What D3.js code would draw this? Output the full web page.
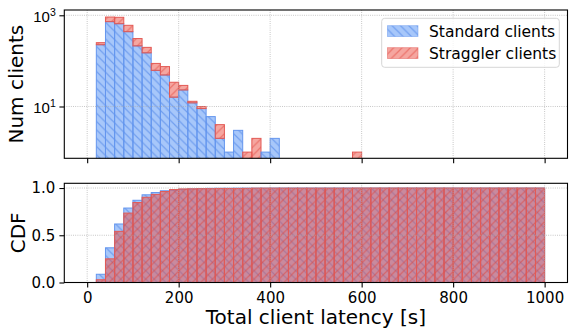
<!DOCTYPE html>
<html>
<head>
<meta charset="utf-8">
<script src="https://cdn.jsdelivr.net/npm/d3@7"></script>
<style>
  body { margin: 0; background: #fff; }
  svg { display: block; font-family: "DejaVu Sans", sans-serif; }
</style>
</head>
<body>
<svg id="chart" width="573" height="334"></svg>
<script>
// histogram bins: lower edges, 20 s wide, 20..980
const binWidth = 20;
const binStarts = d3.range(20, 1000, binWidth);

// counts per bin
const standardCounts = [
  226, 725, 653, 437, 213, 150, 62, 49, 16, 23,
  12, 9, 6, 2, 1, 3, 0, 0, 1, 2,
  0, 0, 0, 0, 0, 0, 0, 0, 0, 0,
  0, 0, 0, 0, 0, 0, 0, 0, 0, 0,
  0, 0, 0, 0, 0, 0, 0, 0, 0
];
const stragglerCounts = [
  25, 190, 250, 166, 96, 48, 26, 26, 18, 6,
  1, 1, 0, 2, 0, 0, 1, 2, 0, 0,
  0, 0, 0, 0, 0, 0, 0, 0, 1, 0,
  0, 0, 0, 0, 0, 0, 0, 0, 0, 0,
  0, 0, 0, 0, 0, 0, 0, 0, 0
];

const xTicks = [0, 200, 400, 600, 800, 1000];
const logTicks = [10, 1000];
const cdfTicks = [0, 0.5, 1.0];
const seriesNames = ["Standard clients", "Straggler clients"];

const svg = d3.select("#chart");
const left = 64.3, right = 567.5;
const top1 = 10, bottom1 = 158.3;
const top2 = 183.3, bottom2 = 282.5;

const blueFill = "rgba(80,144,245,0.5)", blueEdge = "#6496ee", blueHatch = "rgba(70,125,230,0.55)";
const redFill = "rgba(235,77,65,0.5)", redEdge = "#e35a55", redHatch = "rgba(225,65,55,0.5)";

const x = d3.scaleLinear().domain([-50, 1050]).range([left, right]);
const yLog = d3.scaleLog().domain([Math.pow(10, -0.136), Math.pow(10, 3.116)]).range([bottom1, top1]);
const yCdf = d3.scaleLinear().domain([0, 1.05]).range([bottom2, top2]);

// hatch patterns
const defs = svg.append("defs");
function hatch(id, color, back) {
  const s = 8.33;
  const p = defs.append("pattern").attr("id", id)
    .attr("patternUnits", "userSpaceOnUse").attr("width", s).attr("height", s);
  const d = back
    ? `M0,0 L${s},${s} M${-s},0 L0,${s} M0,${-s} L${s},0 M${s},${2 * s} L${s * 2},${s}`
    : `M0,${s} L${s},0 M${-s},${s} L0,0 M${s},${s * 2} L${2 * s},${s} M0,${2 * s} L${2 * s},0`;
  p.append("path").attr("d", back ? `M0,0 L${s},${s} M${-s / 2},${s / 2} L${s / 2},${1.5 * s} M${s / 2},${-s / 2} L${1.5 * s},${s / 2}` : `M0,${s} L${s},0 M${-s / 2},${s / 2} L${s / 2},${-s / 2} M${s / 2},${1.5 * s} L${1.5 * s},${s / 2}`)
    .attr("stroke", color).attr("stroke-width", 1.2).attr("fill", "none");
}
hatch("hBlue", blueHatch, true);
hatch("hRed", redHatch, false);

defs.append("clipPath").attr("id", "clipTop")
  .append("rect").attr("x", left).attr("y", top1).attr("width", right - left).attr("height", bottom1 - top1);

function drawBar(g, x0, yTop, yBot, fill, hatchId, edge) {
  const w = x(x0 + binWidth) - x(x0);
  g.append("rect").attr("x", x(x0)).attr("y", yTop).attr("width", w).attr("height", yBot - yTop)
    .attr("fill", fill);
  g.append("rect").attr("x", x(x0)).attr("y", yTop).attr("width", w).attr("height", yBot - yTop)
    .attr("fill", `url(#${hatchId})`).attr("stroke", edge).attr("stroke-width", 1);
}

// ---- top panel: stacked log histogram
const gTop = svg.append("g").attr("clip-path", "url(#clipTop)");
binStarts.forEach((s, i) => {
  const a = standardCounts[i], b = stragglerCounts[i];
  const base = bottom1 + 5;
  if (a > 0) drawBar(gTop, s, yLog(a), base, blueFill, "hBlue", blueEdge);
  if (b > 0) drawBar(gTop, s, yLog(a + b), a > 0 ? yLog(a) : base, redFill, "hRed", redEdge);
});

// ---- bottom panel: CDFs, straggler drawn over standard
const cdf = counts => {
  const total = d3.sum(counts);
  return Array.from(d3.cumsum(counts), v => v / total);
};
const cdfStandard = cdf(standardCounts);
const cdfStraggler = cdf(stragglerCounts);
const gBot = svg.append("g");
binStarts.forEach((s, i) => drawBar(gBot, s, yCdf(cdfStandard[i]), yCdf(0), blueFill, "hBlue", blueEdge));
binStarts.forEach((s, i) => drawBar(gBot, s, yCdf(cdfStraggler[i]), yCdf(0), redFill, "hRed", redEdge));

// ---- grids (drawn above bars)
const gridStyle = sel => sel.attr("stroke", "#a8a8a8").attr("stroke-width", 0.8).attr("stroke-dasharray", "0.8,1.4");
[[top1, bottom1], [top2, bottom2]].forEach(([t, b]) => {
  xTicks.forEach(v => gridStyle(svg.append("line").attr("x1", x(v)).attr("x2", x(v)).attr("y1", t).attr("y2", b)));
});
logTicks.forEach(v => gridStyle(svg.append("line").attr("x1", left).attr("x2", right).attr("y1", yLog(v)).attr("y2", yLog(v))));
cdfTicks.forEach(v => gridStyle(svg.append("line").attr("x1", left).attr("x2", right).attr("y1", yCdf(v)).attr("y2", yCdf(v))));

// ---- axes
const tickFont = 15;
const xAxisTop = svg.append("g").attr("transform", `translate(0,${bottom1})`)
  .call(d3.axisBottom(x).tickValues(xTicks).tickFormat("").tickSize(4.9).tickSizeOuter(0));
const xAxisBot = svg.append("g").attr("transform", `translate(0,${bottom2})`)
  .call(d3.axisBottom(x).tickValues(xTicks).tickFormat(d3.format("d")).tickSize(4.9).tickSizeOuter(0).tickPadding(4.5));
const yAxisTop = svg.append("g").attr("transform", `translate(${left},0)`)
  .call(d3.axisLeft(yLog).tickValues(logTicks).tickFormat("").tickSize(4.9).tickSizeOuter(0));
const yAxisBot = svg.append("g").attr("transform", `translate(${left},0)`)
  .call(d3.axisLeft(yCdf).tickValues(cdfTicks).tickFormat(d3.format(".1f")).tickSize(4.9).tickSizeOuter(0).tickPadding(4));

[xAxisTop, xAxisBot, yAxisTop, yAxisBot].forEach(a => {
  a.select(".domain").remove();
  a.selectAll(".tick line").attr("stroke", "#000").attr("stroke-width", 1.1);
  a.selectAll(".tick text").attr("font-size", tickFont).attr("font-family", "DejaVu Sans").attr("fill", "#000");
});

// superscript log labels
yAxisTop.selectAll(".tick").each(function (d) {
  const t = d3.select(this).append("text").attr("x", -8.5).attr("y", 6).attr("text-anchor", "end")
    .attr("font-size", tickFont).attr("fill", "#000");
  t.append("tspan").text("10");
  t.append("tspan").attr("dy", -6).attr("font-size", 10.5).text(Math.round(Math.log10(d)));
});

// spines
[[top1, bottom1], [top2, bottom2]].forEach(([t, b]) => {
  svg.append("rect").attr("x", left).attr("y", t).attr("width", right - left).attr("height", b - t)
    .attr("fill", "none").attr("stroke", "#000").attr("stroke-width", 1.1);
});

// labels
svg.append("text").attr("transform", `translate(16,${(top1 + bottom1) / 2}) rotate(-90)`)
  .attr("text-anchor", "middle").attr("dominant-baseline", "central").attr("font-size", 20).text("Num clients");
svg.append("text").attr("transform", `translate(18,${(top2 + bottom2) / 2}) rotate(-90)`)
  .attr("text-anchor", "middle").attr("dominant-baseline", "central").attr("font-size", 20).text("CDF");
svg.append("text").attr("x", (left + right) / 2).attr("y", 324)
  .attr("text-anchor", "middle").attr("font-size", 20).text("Total client latency [s]");

// legend
const lg = svg.append("g");
lg.append("rect").attr("x", 381.7).attr("y", 18.3).attr("width", 177.6).attr("height", 49).attr("rx", 3)
  .attr("fill", "rgba(255,255,255,0.8)").attr("stroke", "#d6d6d6").attr("stroke-width", 1);
const legendItems = [
  { name: seriesNames[0], fill: blueFill, hatch: "hBlue", edge: blueEdge },
  { name: seriesNames[1], fill: redFill, hatch: "hRed", edge: redEdge }
];
legendItems.forEach((it, i) => {
  const yy = 25.7 + i * 22;
  lg.append("rect").attr("x", 387.5).attr("y", yy).attr("width", 30.5).attr("height", 10.8).attr("fill", it.fill);
  lg.append("rect").attr("x", 387.5).attr("y", yy).attr("width", 30.5).attr("height", 10.8)
    .attr("fill", `url(#${it.hatch})`).attr("stroke", it.edge).attr("stroke-width", 0.8).attr("stroke-opacity", 0.6);
  lg.append("text").attr("x", 429).attr("y", yy + 11).attr("font-size", 15.5).text(it.name);
});
</script>
</body>
</html>
